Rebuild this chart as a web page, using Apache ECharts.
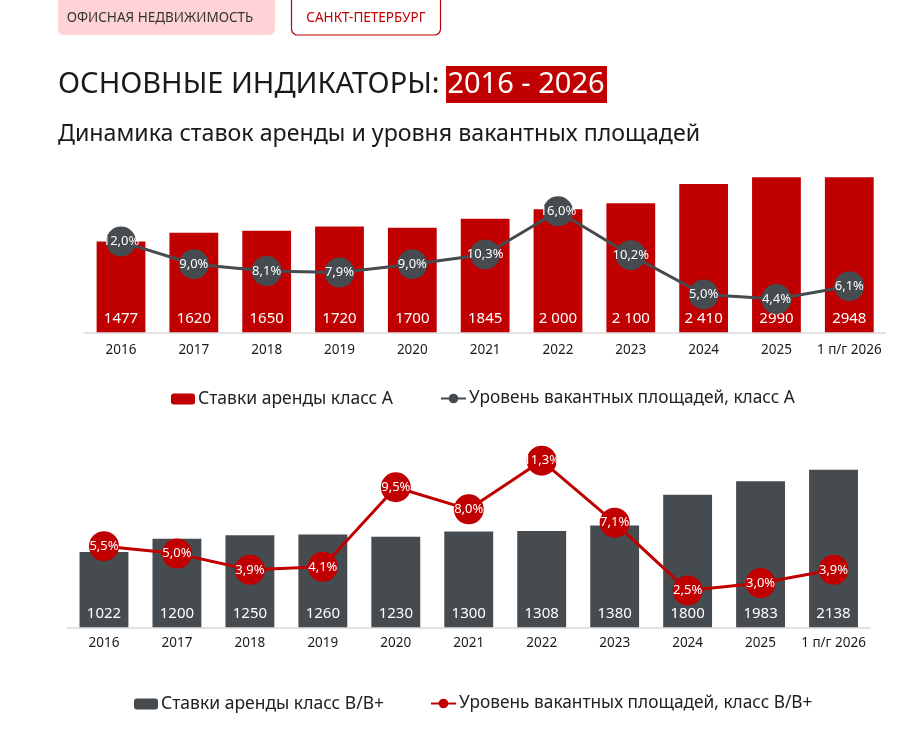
<!DOCTYPE html>
<html>
<head>
<meta charset="utf-8">
<script src="https://cdn.jsdelivr.net/npm/echarts@6/dist/echarts.min.js"></script>
<style>
  html, body { margin: 0; padding: 0; background: #fff; }
  #chart { width: 920px; height: 738px; }
</style>
</head>
<body>
<div id="chart"></div>
<script>
var years = ['2016', '2017', '2018', '2019', '2020', '2021', '2022', '2023', '2024', '2025', '1 п/г 2026'];

// класс А
var rentA = [1477, 1620, 1650, 1720, 1700, 1845, 2000, 2100, 2410, 2990, 2948];
var rentALabels = ['1477', '1620', '1650', '1720', '1700', '1845', '2 000', '2 100', '2 410', '2990', '2948'];
var vacA = [12.0, 9.0, 8.1, 7.9, 9.0, 10.3, 16.0, 10.2, 5.0, 4.4, 6.1];

// класс B/B+
var rentB = [1022, 1200, 1250, 1260, 1230, 1300, 1308, 1380, 1800, 1983, 2138];
var rentBLabels = ['1022', '1200', '1250', '1260', '1230', '1300', '1308', '1380', '1800', '1983', '2138'];
var vacB = [5.5, 5.0, 3.9, 4.1, 9.5, 8.0, 11.3, 7.1, 2.5, 3.0, 3.9];

var RED = '#c00000';
var GRAY = '#464b4f';
var FONT = '"Noto Sans", sans-serif';

function pct(p) {
  return p.value.toFixed(1).replace('.', ',') + '%';
}

var chart = echarts.init(document.getElementById('chart'));

var option = {
  animation: false,
  textStyle: { fontFamily: FONT },
  graphic: [
    // плашки
    { type: 'rect', shape: { x: 58, y: -10, width: 217, height: 45, r: 6 }, style: { fill: '#ffd3d6' } },
    { type: 'text', x: 160, y: 18, style: { text: 'ОФИСНАЯ НЕДВИЖИМОСТЬ', fill: '#333', font: '13.5px ' + FONT, align: 'center', verticalAlign: 'middle' } },
    { type: 'rect', shape: { x: 291.5, y: -10, width: 149, height: 45, r: 6 }, style: { fill: '#fff', stroke: RED, lineWidth: 1.2 } },
    { type: 'text', x: 366, y: 18, style: { text: 'САНКТ-ПЕТЕРБУРГ', fill: RED, font: '13.5px ' + FONT, align: 'center', verticalAlign: 'middle' } },
    // заголовок
    { type: 'text', x: 58, y: 85, style: { text: 'ОСНОВНЫЕ ИНДИКАТОРЫ:', fill: '#1a1a1a', font: '29px ' + FONT, verticalAlign: 'middle' } },
    { type: 'rect', shape: { x: 446, y: 66, width: 161, height: 37 }, style: { fill: RED } },
    { type: 'text', x: 526, y: 85, style: { text: '2016 - 2026', fill: '#fff', font: '29px ' + FONT, align: 'center', verticalAlign: 'middle' } },
    { type: 'text', x: 58, y: 134, style: { text: 'Динамика ставок аренды и уровня вакантных площадей', fill: '#1a1a1a', font: '23.2px ' + FONT, verticalAlign: 'middle' } }
  ],
  legend: [
    {
      data: ['Ставки аренды класс А'],
      left: 166, top: 385,
      itemWidth: 24, itemHeight: 11,
      textStyle: { fontSize: 17.5, color: '#222', padding: [0, 0, 0, -2] }
    },
    {
      data: ['Уровень вакантных площадей, класс А'],
      left: 435, top: 385,
      itemWidth: 25, itemHeight: 12,
      textStyle: { fontSize: 17.3, color: '#222', padding: [0, 0, 0, -2] }
    },
    {
      data: ['Ставки аренды класс B/B+'],
      left: 129, top: 690,
      itemWidth: 24, itemHeight: 11,
      textStyle: { fontSize: 17.5, color: '#222', padding: [0, 0, 0, -2] }
    },
    {
      data: ['Уровень вакантных площадей, класс B/B+'],
      left: 425, top: 690,
      itemWidth: 25, itemHeight: 12,
      textStyle: { fontSize: 17.3, color: '#222', padding: [0, 0, 0, -2] }
    }
  ],
  grid: [
    { left: 84.6, right: 34.3, top: 177.3, height: 155 },
    { left: 67.5, right: 50, top: 450.4, height: 176.9 }
  ],
  xAxis: [0, 1].map(function (i) {
    return {
      type: 'category',
      gridIndex: i,
      data: years,
      axisTick: { show: false },
      axisLine: { lineStyle: { color: '#d9d9d9', width: 1.5 } },
      axisLabel: { color: '#1a1a1a', fontSize: 13.5, interval: 0, margin: i === 0 ? 11 : 9 }
    };
  }),
  yAxis: [
    { type: 'value', gridIndex: 0, min: 0, max: 2520, show: false },
    { type: 'value', gridIndex: 0, min: 0, max: 20.5, show: false },
    { type: 'value', gridIndex: 1, min: 0, max: 2400, show: false },
    { type: 'value', gridIndex: 1, min: 0, max: 12, show: false }
  ],
  series: [
    {
      name: 'Ставки аренды класс А',
      type: 'bar',
      xAxisIndex: 0, yAxisIndex: 0,
      data: rentA,
      barWidth: '67%',
      itemStyle: { color: RED },
      label: {
        show: true, position: 'insideBottom', distance: 6,
        color: '#fff', fontSize: 15,
        formatter: function (p) { return rentALabels[p.dataIndex]; }
      }
    },
    {
      name: 'Уровень вакантных площадей, класс А',
      type: 'line',
      xAxisIndex: 0, yAxisIndex: 1,
      data: vacA,
      symbol: 'circle', symbolSize: 30,
      lineStyle: { color: GRAY, width: 3 },
      itemStyle: { color: GRAY },
      label: { show: true, position: 'inside', color: '#fff', fontSize: 13, formatter: pct },
      z: 3
    },
    {
      name: 'Ставки аренды класс B/B+',
      type: 'bar',
      xAxisIndex: 1, yAxisIndex: 2,
      data: rentB,
      barWidth: '67%',
      itemStyle: { color: GRAY },
      label: {
        show: true, position: 'insideBottom', distance: 6,
        color: '#fff', fontSize: 15,
        formatter: function (p) { return rentBLabels[p.dataIndex]; }
      }
    },
    {
      name: 'Уровень вакантных площадей, класс B/B+',
      type: 'line',
      xAxisIndex: 1, yAxisIndex: 3,
      data: vacB,
      symbol: 'circle', symbolSize: 30,
      lineStyle: { color: RED, width: 3 },
      itemStyle: { color: RED },
      label: { show: true, position: 'inside', color: '#fff', fontSize: 13, formatter: pct },
      z: 3
    }
  ]
};

chart.setOption(option);
</script>
</body>
</html>
